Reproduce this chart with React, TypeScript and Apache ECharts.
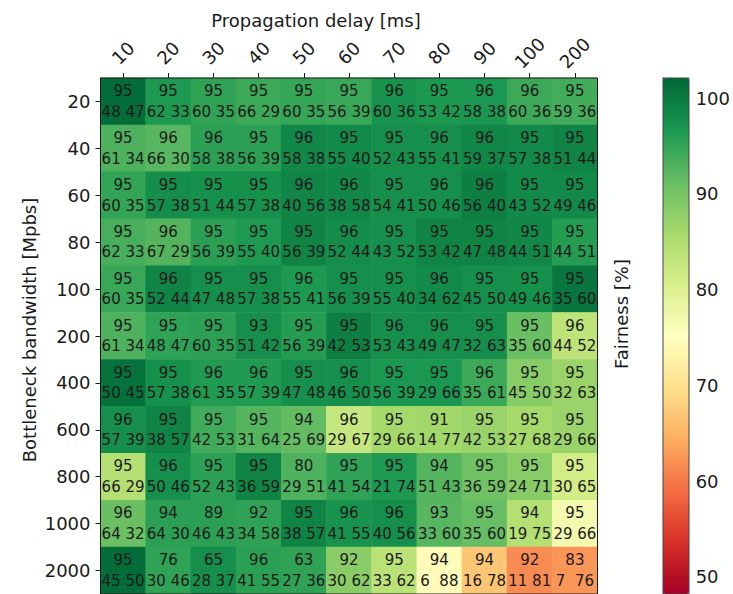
import React, { useEffect, useRef } from "react";
import * as echarts from "echarts";

// Columns: propagation delay [ms]; rows: bottleneck bandwidth [Mbps]
const delays = ["10", "20", "30", "40", "50", "60", "70", "80", "90", "100", "200"];
const bandwidths = ["20", "40", "60", "80", "100", "200", "400", "600", "800", "1000", "2000"];

// Top number in each cell (link utilisation %)
const utilization = [
  [95, 95, 95, 95, 95, 95, 96, 95, 96, 96, 95],
  [95, 96, 96, 95, 96, 95, 95, 96, 96, 95, 95],
  [95, 95, 95, 95, 96, 96, 95, 96, 96, 95, 95],
  [95, 96, 95, 95, 95, 96, 95, 95, 95, 95, 95],
  [95, 96, 95, 95, 96, 95, 95, 96, 95, 95, 95],
  [95, 95, 95, 93, 95, 95, 96, 96, 95, 95, 96],
  [95, 95, 96, 96, 95, 96, 95, 95, 96, 95, 95],
  [96, 95, 95, 95, 94, 96, 95, 91, 95, 95, 95],
  [95, 96, 95, 95, 80, 95, 95, 94, 95, 95, 95],
  [96, 94, 89, 92, 95, 96, 96, 93, 95, 94, 95],
  [95, 76, 65, 96, 63, 92, 95, 94, 94, 92, 83],
];

// Bottom-left number: share of flow 1
const flowA = [
  [48, 62, 60, 66, 60, 56, 60, 53, 58, 60, 59],
  [61, 66, 58, 56, 58, 55, 52, 55, 59, 57, 51],
  [60, 57, 51, 57, 40, 38, 54, 50, 56, 43, 49],
  [62, 67, 56, 55, 56, 52, 43, 53, 47, 44, 44],
  [60, 52, 47, 57, 55, 56, 55, 34, 45, 49, 35],
  [61, 48, 60, 51, 56, 42, 53, 49, 32, 35, 44],
  [50, 57, 61, 57, 47, 46, 56, 29, 35, 45, 32],
  [57, 38, 42, 31, 25, 29, 29, 14, 42, 27, 29],
  [66, 50, 52, 36, 29, 41, 21, 51, 36, 24, 30],
  [64, 64, 46, 34, 38, 41, 40, 33, 35, 19, 29],
  [45, 30, 28, 41, 27, 30, 33, 6, 16, 11, 7],
];

// Bottom-right number: share of flow 2
const flowB = [
  [47, 33, 35, 29, 35, 39, 36, 42, 38, 36, 36],
  [34, 30, 38, 39, 38, 40, 43, 41, 37, 38, 44],
  [35, 38, 44, 38, 56, 58, 41, 46, 40, 52, 46],
  [33, 29, 39, 40, 39, 44, 52, 42, 48, 51, 51],
  [35, 44, 48, 38, 41, 39, 40, 62, 50, 46, 60],
  [34, 47, 35, 42, 39, 53, 43, 47, 63, 60, 52],
  [45, 38, 35, 39, 48, 50, 39, 66, 61, 50, 63],
  [39, 57, 53, 64, 69, 67, 66, 77, 53, 68, 66],
  [29, 46, 43, 59, 51, 54, 74, 43, 59, 71, 65],
  [32, 30, 43, 58, 57, 55, 56, 60, 60, 75, 66],
  [50, 46, 37, 55, 36, 62, 62, 88, 78, 81, 76],
];

// Cell colour: fairness [%]
const fairness = [
  [101.5, 96.5, 95.2, 94.3, 94.8, 94.5, 97.3, 96.6, 96.8, 94.3, 93.8],
  [93.0, 92.3, 95.5, 95.5, 98.5, 98.3, 97.7, 97.7, 98.7, 98.3, 99.0],
  [95.0, 97.8, 97.5, 97.5, 98.8, 98.5, 97.7, 97.7, 99.5, 98.3, 98.3],
  [93.5, 92.6, 95.5, 96.5, 99.0, 98.0, 97.7, 99.0, 99.0, 98.5, 96.0],
  [94.5, 99.0, 97.7, 97.7, 96.5, 97.7, 97.7, 98.3, 97.7, 97.5, 100.5],
  [93.0, 95.3, 95.5, 97.7, 96.0, 99.5, 97.7, 97.7, 97.7, 91.0, 83.5],
  [101.0, 97.5, 96.3, 96.3, 97.7, 97.7, 96.8, 96.8, 94.3, 88.5, 87.0],
  [97.7, 99.0, 94.0, 92.5, 91.5, 82.5, 86.0, 86.3, 87.0, 86.0, 87.0],
  [84.5, 97.7, 95.5, 99.0, 93.0, 95.2, 96.5, 92.5, 90.5, 88.5, 81.3],
  [91.0, 95.5, 95.5, 95.2, 99.0, 97.3, 97.7, 92.3, 91.3, 84.5, 76.8],
  [101.5, 95.2, 97.7, 95.5, 95.2, 88.3, 83.8, 74.5, 67.0, 61.5, 62.5],
];

const colorbarTicks = [50, 60, 70, 80, 90, 100];
const colorMin = 48.2;
const colorMax = 102.1;
const RdYlGn = [
  "#a50026", "#d73027", "#f46d43", "#fdae61", "#fee08b", "#ffffbf",
  "#d9ef8b", "#a6d96a", "#66bd63", "#1a9850", "#006837",
];

const FONT = "DejaVu Sans";
const TXT = "#1a1a1a";

export default function App() {
  const ref = useRef<HTMLDivElement>(null);

  useEffect(() => {
    if (!ref.current) return;
    const chart = echarts.init(ref.current, null, { renderer: "svg" });

    const data: number[][] = [];
    for (let r = 0; r < bandwidths.length; r++) {
      for (let c = 0; c < delays.length; c++) {
        data.push([c, r, fairness[r][c]]);
      }
    }

    const gL = 100.5, gT = 78, gW = 497, gH = 516;
    const cbL = 663, cbW = 26;

    const option: any = {
      animation: false,
      textStyle: { fontFamily: FONT },
      grid: [
        { left: gL, top: gT, width: gW, height: gH },
        { left: cbL, top: gT, width: cbW, height: gH },
      ],
      xAxis: [
        {
          type: "category",
          gridIndex: 0,
          data: delays,
          position: "top",
          axisLine: { show: true, lineStyle: { color: TXT, width: 1 } },
          axisTick: { show: true, alignWithLabel: true, length: 5, lineStyle: { color: TXT } },
          axisLabel: {
            rotate: -45,
            align: "center",
            verticalAlign: "middle",
            margin: 25,
            fontSize: 18,
            color: TXT,
            fontFamily: FONT,
          },
          splitLine: { show: false },
        },
        { type: "value", gridIndex: 1, show: false, min: 0, max: 1 },
      ],
      yAxis: [
        {
          type: "category",
          gridIndex: 0,
          data: bandwidths,
          inverse: true,
          axisLine: { show: true, lineStyle: { color: TXT, width: 1 } },
          axisTick: { show: true, alignWithLabel: true, length: 5, lineStyle: { color: TXT } },
          axisLabel: { margin: 10, fontSize: 18, color: TXT, fontFamily: FONT },
          splitLine: { show: false },
        },
        {
          type: "value",
          gridIndex: 1,
          position: "right",
          min: colorMin,
          max: colorMax,
          axisLine: { show: true, lineStyle: { color: "#444", width: 1 } },
          axisTick: { show: true, length: 4, lineStyle: { color: "#444" }, customValues: colorbarTicks },
          axisLabel: { margin: 9, fontSize: 18, color: TXT, fontFamily: FONT, customValues: colorbarTicks },
          splitLine: { show: false },
        },
      ],
      visualMap: {
        type: "continuous",
        seriesIndex: 0,
        dimension: 2,
        min: colorMin,
        max: colorMax,
        calculable: false,
        realtime: false,
        orient: "vertical",
        left: cbL,
        top: gT,
        itemWidth: cbW,
        itemHeight: gH,
        padding: 0,
        text: null,
        showLabel: false,
        inRange: { color: RdYlGn },
      },
      series: [
        {
          type: "heatmap",
          xAxisIndex: 0,
          yAxisIndex: 0,
          data,
          emphasis: { disabled: true },
          itemStyle: { borderWidth: 0 },
          label: {
            show: true,
            formatter: (p: any) => {
              const c = p.data[0];
              const r = p.data[1];
              const a = flowA[r][c];
              const b = flowB[r][c];
              const bottom = a < 10 ? `${a}\u00a0\u00a0${b}` : `${a}\u00a0${b}`;
              return `{t|${utilization[r][c]}}\n{b|${bottom}}`;
            },
            rich: {
              t: { fontSize: 15, lineHeight: 20.5, color: TXT, fontFamily: FONT },
              b: { fontSize: 15, lineHeight: 20.5, color: TXT, fontFamily: FONT },
            },
          },
        },
      ],
      graphic: [
        {
          type: "rect",
          z: 100,
          shape: { x: gL, y: gT, width: gW, height: gH },
          style: { fill: "none", stroke: TXT, lineWidth: 1 },
          silent: true,
        },
        {
          type: "rect",
          z: 100,
          shape: { x: cbL, y: gT, width: cbW, height: gH },
          style: { fill: "none", stroke: "#444", lineWidth: 1 },
          silent: true,
        },
        {
          type: "text",
          x: 316,
          y: 20,
          style: {
            text: "Propagation delay [ms]",
            fontSize: 18,
            fontFamily: FONT,
            fill: TXT,
            align: "center",
            verticalAlign: "middle",
          },
        },
        {
          type: "text",
          x: 29,
          y: 330,
          rotation: Math.PI / 2,
          style: {
            text: "Bottleneck bandwidth [Mpbs]",
            fontSize: 18,
            fontFamily: FONT,
            fill: TXT,
            align: "center",
            verticalAlign: "middle",
          },
        },
        {
          type: "text",
          x: 621,
          y: 314,
          rotation: Math.PI / 2,
          style: {
            text: "Fairness [%]",
            fontSize: 18,
            fontFamily: FONT,
            fill: TXT,
            align: "center",
            verticalAlign: "middle",
          },
        },
      ],
    };

    chart.setOption(option);
    return () => chart.dispose();
  }, []);

  return (
    <div
      ref={ref}
      style={{ position: "absolute", left: 0, top: 0, width: 733, height: 594, background: "#fff" }}
    />
  );
}
